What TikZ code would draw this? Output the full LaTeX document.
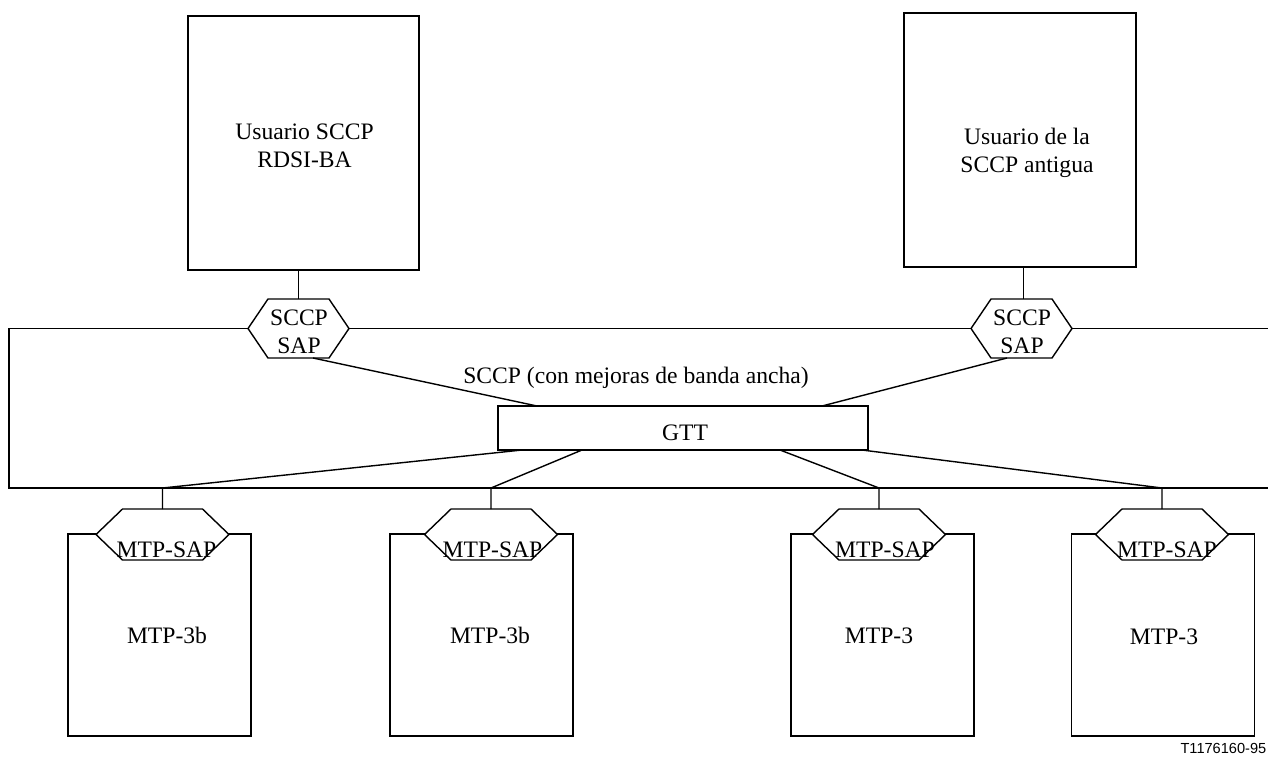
\documentclass[tikz,border=0pt]{standalone}
\usepackage{fontspec}
\setmainfont{Liberation Serif}
\newfontfamily\labelsans{Liberation Sans}
\usetikzlibrary{calc}
\newlength\pxu
\setlength\pxu{0.5pt}
\newcommand\hexdraw[2]{\draw[hexline] (#1.north west) -- (#1.north east) -- ($(#1.east)+(#2,0)$) -- (#1.south east) -- (#1.south west) -- ($(#1.west)+(-#2,0)$) -- cycle;}
\begin{document}
\begin{tikzpicture}[x=0.5pt,y=-0.5pt,line width=0.7pt,
  ubox/.style={draw,inner sep=0pt,outer sep=0pt},
  core/.style={inner sep=0pt,outer sep=0pt},
  hexline/.style={fill=white},
  txt/.style={font=\fontsize{11.8}{14}\selectfont,inner sep=0pt,align=center},
  conn/.style={}]
\useasboundingbox (0,0) rectangle (1268,756);

% user boxes
\node[ubox,minimum width=231\pxu,minimum height=254\pxu] (u1) at (303.5,143) {};
\node[txt] (u1t) at (304.5,146) {Usuario SCCP\\RDSI-BA};
\node[ubox,minimum width=232\pxu,minimum height=254\pxu] (u2) at (1020,140) {};
\node[txt] (u2t) at (1027,152.5) {Usuario de la\\SCCP antigua};

% SCCP frame (open to the right)
\coordinate (ftr) at (1268,328.5);
\coordinate (ftl) at (9,328.5);
\coordinate (fbl) at (9,488);
\coordinate (fbr) at (1268,488);
\draw (ftr) -- (ftl) -- (fbl) -- (fbr);
\node[txt,anchor=base] (sccpl) at (636,383) {SCCP (con mejoras de banda ancha)};

% SCCP SAP hexagons
\node[core,minimum width=61\pxu,minimum height=59\pxu] (s1) at (298.5,328.5) {};
\node[core,minimum width=61\pxu,minimum height=59\pxu] (s2) at (1021.5,328.5) {};
\hexdraw{s1}{20}
\hexdraw{s2}{20}
\node[txt] (s1t) at (299,332) {SCCP\\SAP};
\node[txt] (s2t) at (1022,332) {SCCP\\SAP};
\draw[conn] (s1.north |- u1.south) -- (s1.north);
\draw[conn] ([xshift=1pt]s2.north |- u2.south) -- ([xshift=1pt]s2.north);

% GTT
\node[ubox,minimum width=370\pxu,minimum height=44\pxu] (gtt) at (683,428) {};
\node[txt,anchor=base] (gttt) at (685,440) {GTT};
\draw[conn] ($(s1.south)+(14.5,0)$) -- ($(gtt.north west)+(39,0)$);
\draw[conn] ($(s2.south)+(-14.5,0)$) -- ($(gtt.north east)+(-46,0)$);

% MTP boxes
\node[ubox,minimum width=183\pxu,minimum height=202\pxu] (b1) at (159.5,635) {};
\node[ubox,minimum width=183\pxu,minimum height=202\pxu] (b2) at (481.5,635) {};
\node[ubox,minimum width=183\pxu,minimum height=202\pxu] (b3) at (882.5,635) {};
\node[ubox,minimum width=183\pxu,minimum height=202\pxu] (b4) at (1163,635) {};
\node[txt,anchor=base] (b1t) at (167,643) {MTP-3b};
\node[txt,anchor=base] (b2t) at (490,643) {MTP-3b};
\node[txt,anchor=base] (b3t) at (879,643) {MTP-3};
\node[txt,anchor=base] (b4t) at (1164,644) {MTP-3};

% MTP-SAP hexagons
\node[core,minimum width=80\pxu,minimum height=51\pxu] (m1) at (162.5,534.5) {};
\node[core,minimum width=80\pxu,minimum height=51\pxu] (m2) at (491,534.5) {};
\node[core,minimum width=80\pxu,minimum height=51\pxu] (m3) at (879,534.5) {};
\node[core,minimum width=80\pxu,minimum height=51\pxu] (m4) at (1162,534.5) {};
\hexdraw{m1}{26.5}
\hexdraw{m2}{26.5}
\hexdraw{m3}{26.5}
\hexdraw{m4}{26.5}
\node[txt,anchor=base] (m1t) at (166.5,557) {MTP-SAP};
\node[txt,anchor=base] (m2t) at (492.5,557) {MTP-SAP};
\node[txt,anchor=base] (m3t) at (885,557) {MTP-SAP};
\node[txt,anchor=base] (m4t) at (1167,557) {MTP-SAP};

% junctions on the frame bottom
\coordinate (j1) at (m1.north |- fbl);
\coordinate (j2) at (m2.north |- fbl);
\coordinate (j3) at (m3.north |- fbl);
\coordinate (j4) at (m4.north |- fbl);
\draw[conn] ($(gtt.south west)+(24,0)$) -- (j1) -- (m1.north);
\draw[conn] ($(gtt.south west)+(84,0)$) -- (j2) -- (m2.north);
\draw[conn] ($(gtt.south east)+(-88,0)$) -- (j3) -- (m3.north);
\draw[conn] ($(gtt.south east)+(-6,0)$) -- (j4) -- (m4.north);

\node[font=\labelsans\fontsize{7.3}{9}\selectfont,anchor=base east,inner sep=0pt] (code) at (1267,753) {T1176160-95};
\end{tikzpicture}
\end{document}
